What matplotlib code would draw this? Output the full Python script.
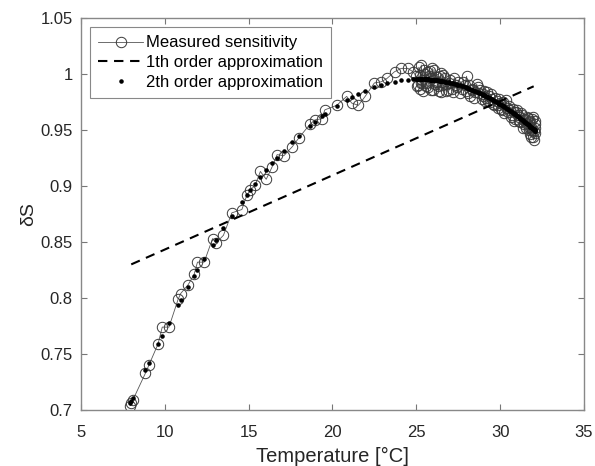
import numpy as np
import matplotlib
matplotlib.use('Agg')
import matplotlib.pyplot as plt

plt.rcParams['font.family'] = ['Liberation Sans', 'DejaVu Sans']

# Measured sensitivity: heating run ...
meas_T = [7.95, 8.0, 8.1, 8.85, 9.05, 9.6, 9.85, 10.25, 10.8, 10.95, 11.4, 11.75,
          11.95, 12.35, 12.85, 13.05, 13.5, 14.0, 14.6, 14.9, 15.1, 15.4, 15.7,
          16.05, 16.4, 16.7, 17.1, 17.6, 18.0, 18.65, 18.95, 19.35, 19.55, 20.25,
          20.85, 21.15, 21.55, 21.95, 22.5, 22.9, 23.25, 23.7, 24.1, 24.5, 24.8,
          25.0, 25.1, 25.2, 25.3, 25.35, 25.4, 25.5, 25.6, 25.7, 25.8, 25.9, 26.0,
          26.05, 26.2, 26.3, 26.4, 26.5, 26.6, 26.75, 26.9, 27.0, 27.2, 27.35,
          27.5, 27.7, 27.9, 28.0, 28.1, 28.2, 28.35, 28.5, 28.65, 28.8, 28.9,
          29.0, 29.1, 29.2, 29.35, 29.4, 29.5, 29.65, 29.8, 29.9, 30.0, 30.1,
          30.2, 30.35, 30.45, 30.6, 30.7, 30.8, 30.9, 31.0, 31.1, 31.2, 31.3,
          31.4, 31.5, 31.55, 31.6, 31.7, 31.75, 31.8, 31.85, 31.9, 31.95, 32.0,
          32.0, 32.05, 32.1,
          # ... and the dense part around 25-32 °C going back
          32.1, 32.05, 31.98, 31.9, 31.85, 31.8, 31.7, 31.65, 31.55, 31.45,
          31.35, 31.25, 31.15, 31.05, 30.95, 30.85, 30.75, 30.65, 30.5, 30.4,
          30.25, 30.15, 30.05, 29.95, 29.85, 29.7, 29.55, 29.45, 29.3, 29.15,
          29.05, 28.95, 28.75, 28.6, 28.45, 28.3, 28.15, 27.95, 27.8, 27.6,
          27.45, 27.25, 27.1, 26.95, 26.8, 26.7, 26.55, 26.45, 26.35, 26.25,
          26.1, 25.95, 25.85, 25.75, 25.65, 25.55, 25.45, 25.3, 25.25, 25.15,
          25.05]
meas_S = [0.704, 0.706, 0.709, 0.733, 0.740, 0.759, 0.774, 0.774, 0.799, 0.804,
          0.812, 0.821, 0.832, 0.832, 0.853, 0.849, 0.856, 0.876, 0.879, 0.892,
          0.896, 0.901, 0.913, 0.906, 0.917, 0.928, 0.927, 0.935, 0.943, 0.955,
          0.959, 0.960, 0.968, 0.972, 0.980, 0.974, 0.972, 0.980, 0.992, 0.993,
          0.996, 1.002, 1.005, 1.005, 1.002,
          0.998, 0.990, 0.987, 1.008, 0.995, 0.985, 1.000, 0.992, 0.988, 1.003,
          0.996, 0.986, 1.004, 0.993, 0.989, 0.998, 0.984, 0.999, 0.991, 0.986,
          0.995, 0.984, 0.990, 0.993, 0.987, 0.990, 0.998, 0.983, 0.980, 0.987,
          0.984, 0.988, 0.986, 0.978, 0.982, 0.976, 0.984, 0.980, 0.975, 0.978,
          0.972, 0.976, 0.970, 0.974, 0.968, 0.972, 0.977, 0.966, 0.968, 0.963,
          0.966, 0.960, 0.968, 0.962, 0.957, 0.963, 0.955, 0.960, 0.952, 0.962,
          0.950, 0.957, 0.946, 0.953, 0.960, 0.944, 0.949, 0.941, 0.955, 0.947,
          0.952, 0.958, 0.962, 0.950, 0.944, 0.958, 0.953, 0.961, 0.956, 0.959,
          0.952, 0.965, 0.958, 0.963, 0.966, 0.958, 0.969, 0.962, 0.971, 0.970,
          0.965, 0.975, 0.969, 0.978, 0.972, 0.979, 0.973, 0.982, 0.976, 0.979,
          0.985, 0.980, 0.983, 0.991, 0.979, 0.986, 0.990, 0.985, 0.993, 0.983,
          0.988, 0.996, 0.987, 0.992, 0.985, 0.996, 0.990, 1.001, 0.985, 0.997,
          0.991, 1.005, 0.986, 0.998, 1.002, 0.989, 1.004, 0.992, 0.999, 1.006,
          0.989]

# 1th order approximation end points
lin_T = [8.0, 32.0]
lin_S = [0.830, 0.989]

# 2th order approximation: quadratic fit of the measured points
coef2 = np.polyfit(meas_T, meas_S, 2)
fit_S = np.polyval(coef2, meas_T)

fig = plt.figure(figsize=(5.95, 4.66), dpi=100)
ax = fig.add_axes([0.136, 0.1202, 0.8455, 0.8412])

ax.plot(meas_T, meas_S, '-o', color='#555555', lw=0.6, mfc='none', mec='#3a3a3a',
        mew=0.7, ms=7.5, label='Measured sensitivity')
ax.plot(lin_T, lin_S, '--', color='black', lw=1.5, dashes=(4.5, 3.2),
        label='1th order approximation')
ax.plot(meas_T, fit_S, '.', color='black', ms=4.5, label='2th order approximation')

ax.set_xlim(5, 35)
ax.set_ylim(0.7, 1.05)
ax.set_xticks(range(5, 36, 5))
ax.set_yticks([0.7, 0.75, 0.8, 0.85, 0.9, 0.95, 1.0, 1.05])
ax.set_yticklabels(['0.7', '0.75', '0.8', '0.85', '0.9', '0.95', '1', '1.05'])
ax.tick_params(direction='in', top=True, right=True, length=4, width=0.8,
               color='#777777', labelsize=12, labelcolor='#262626')
ax.tick_params(axis='x', pad=11)
ax.tick_params(axis='y', pad=6)
for sp in ax.spines.values():
    sp.set_color('#888888')
    sp.set_linewidth(1.0)

ax.set_xlabel('Temperature [°C]', fontsize=14.5, color='#262626', labelpad=5)
ax.set_ylabel('δS', fontsize=14, color='#262626', labelpad=2)

leg = ax.legend(loc='upper left', fontsize=12, fancybox=False, framealpha=1,
                edgecolor='#888888', handlelength=2.7, handletextpad=0.15,
                borderpad=0.5, labelspacing=0.28, borderaxespad=0.55)
leg.get_frame().set_linewidth(0.8)

fig.savefig('out.png', dpi=100)
